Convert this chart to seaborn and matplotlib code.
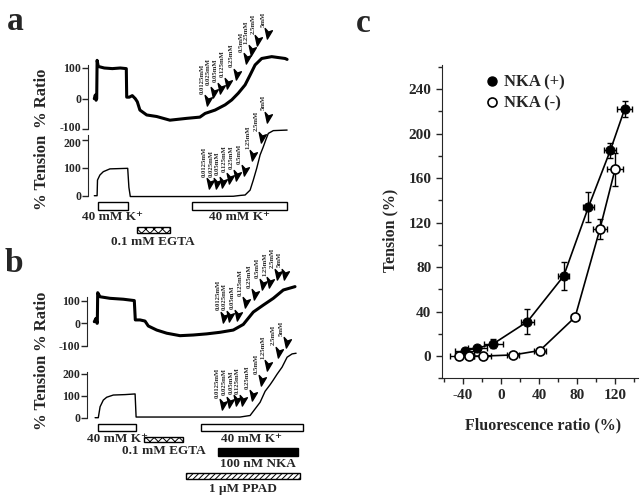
import numpy as np
import pandas as pd
import matplotlib
matplotlib.use('Agg')
import matplotlib.pyplot as plt
import matplotlib.transforms as mtransforms
from matplotlib.path import Path
from matplotlib.lines import Line2D
import seaborn as sns

sns.set_style('ticks')
plt.rcParams['font.family'] = ['Liberation Serif', 'DejaVu Serif']
plt.rcParams['font.weight'] = 'bold'
plt.rcParams['axes.labelweight'] = 'bold'
plt.rcParams['axes.unicode_minus'] = False
plt.rcParams['hatch.linewidth'] = 0.7

# ---- data ----
# time axis of the recordings (arbitrary minutes)
a_ratio_t = [3.0, 3.5, 3.9, 4.2, 4.4, 5.0, 8.0, 12.0, 16.0, 19.0, 19.2, 20.5, 22.0, 23.5, 24.5,
             25.8, 29.2, 34.2, 40.8, 49.2, 55.8, 58.4, 63.4, 68.4, 71.7, 75.0, 78.4, 80.9, 83.4,
             86.7, 91.7, 98.4, 99.4]
a_ratio = [0, 12, -5, 0, 125, 105, 100, 98, 100, 98, 5, 5, 10, 0, -10,
           -37, -53, -58, -70, -64, -60, -48, -37, -20, -4, 18, 45, 77, 110,
           131, 137, 131, 128]
a_tension_t = [3.0, 4.4, 4.6, 5.8, 7.5, 10.8, 19.7, 20.3, 21.0, 60.0, 72.5, 76.0, 78.4, 80.9,
               82.5, 84.2, 85.9, 87.5, 88.7, 90.0, 92.5, 99.4]
a_tension = [0, 0, 56, 74, 86, 96, 98, 30, -3, -3, -2, 1, 2.5, 20,
             56, 98, 146, 175, 199, 223, 233, 235]

b_ratio_t = [3.5, 4.35, 4.85, 5.0, 5.2, 6.35, 11.35, 18.0, 23.5, 24.0, 26.35, 28.85, 30.5, 34.7,
             39.7, 46.35, 53.0, 59.7, 66.35, 73.0, 78.0, 83.0, 88.0, 93.0, 98.0, 103.85]
b_ratio = [7, 22, 0, 0, 136, 118, 111, 107, 101, 15, 15, 10, -12, -30,
           -44, -55, -52, -47, -40, -30, -5, 50, 81, 111, 148, 163]
b_tension_t = [3.9, 5.5, 6.4, 8.0, 9.7, 13.0, 18.9, 23.9, 24.4, 76.4, 81.4, 83.9, 86.4, 88.9,
               91.4, 92.9, 94.9, 97.4, 99.9, 102.4, 104.4]
b_tension = [0, 0, 50, 80, 93, 103, 105, 108, 3, 3, 10, 40, 70, 120,
             150, 170, 198, 230, 275, 290, 293]

# cumulative Ca2+ additions
conc_labels = ['0.0125mM', '0.025mM', '0.05mM', '0.125mM', '0.25mM', '0.5mM', '1.25mM', '2.5mM', '5mM']
a_ratio_arrow_t = [60.0, 63.0, 66.4, 69.7, 74.2, 79.2, 81.7, 85.0, 90.0]
a_ratio_arrow_y = [-4, 23, 34, 50, 82, 131, 158, 191, 213]
a_tension_arrow_t = [60.9, 64.2, 67.5, 70.9, 74.2, 78.4, 82.5, 86.7, 90.0]
a_tension_arrow_y = [44, 44, 50, 62, 74, 92, 146, 211, 283]
b_ratio_arrow_t = [68.4, 71.4, 75.1, 79.3, 84.0, 87.6, 91.4, 95.1, 98.7]
b_ratio_arrow_y = [30, 31, 37, 95, 130, 175, 184, 220, 221]
b_tension_arrow_t = [68.0, 71.4, 74.7, 78.0, 83.0, 87.4, 90.5, 95.9, 99.7]
b_tension_arrow_y = [62, 73, 80, 80, 103, 172, 240, 300, 345]

# protocol bars (start, end)
a_k_periods = [(5.0, 19.7), (52.0, 99.5)]
a_egta_period = (24.2, 40.85)
b_k_periods = [(5.5, 24.4), (56.7, 107.7)]
b_egta_period = (28.4, 47.7)
b_nka_period = (65.5, 105.5)
b_ppad_period = (49.4, 106.4)

# panel c
plus_x = [-38, -25, -8, 28, 66, 92, 115, 130]
plus_y = [5, 7, 11, 31, 72, 134, 185, 222]
plus_xerr = [10, 10, 10, 7, 6, 5.5, 6.5, 7.5]
plus_yerr = [2, 2, 4, 11, 13, 13.5, 6.5, 7]
minus_x = [-44, -33, -19, 13, 41, 78, 104, 120]
minus_y = [0, 0, 0, 1, 5, 35, 114, 168]
minus_xerr = [9, 5, 9, 6, 6, 4, 7, 8]
minus_yerr = [1, 1, 1, 1, 2, 3, 9, 15]

W, H = 640, 497
fig = plt.figure(figsize=(W / 100, H / 100), dpi=100)


def px_axes(left, top, right, bottom):
    ax = fig.add_axes([left / W, 1 - bottom / H, (right - left) / W, (bottom - top) / H])
    ax.patch.set_alpha(0)
    return ax


arrow_marker = Path([(-0.2, -1.0), (-0.6, 0.9), (0.0, 0.25), (0.7, 0.5), (-0.2, -1.0)],
                    [Path.MOVETO, Path.LINETO, Path.LINETO, Path.LINETO, Path.CLOSEPOLY])


def trace_axes(left, top, bottom, zero_px, px_per_unit, bounds, ticks):
    ax = px_axes(left, top, 300, bottom)
    ax.set_xlim(0, (300 - left) / 2)
    ax.set_ylim((zero_px - bottom) / px_per_unit, (zero_px - top) / px_per_unit)
    for s in ['top', 'right', 'bottom']:
        ax.spines[s].set_visible(False)
    ax.spines['left'].set_bounds(*bounds)
    ax.set_xticks([])
    ax.set_yticks(ticks)
    ax.tick_params(axis='y', direction='out', length=4, width=1, labelsize=8.5, pad=1)
    return ax


def nudge_ticklabel(ax, index, dy_px):
    # shift one tick label a few pixels up or down
    off = mtransforms.ScaledTranslation(0, dy_px / 100, fig.dpi_scale_trans)
    lab = ax.get_yticklabels()[index]
    lab.set_transform(lab.get_transform() + off)


def draw_trace(ax, t, v, arr_t, arr_y, lw):
    df = pd.DataFrame({'t': t, 'v': v})
    sns.lineplot(data=df, x='t', y='v', ax=ax, color='black', lw=lw, estimator=None, sort=False)
    ax.set_xlabel('')
    ax.set_ylabel('')
    ax.plot(arr_t, arr_y, ls='none', marker=arrow_marker, ms=8, color='black', clip_on=False)
    for tt, yy, lbl in zip(arr_t, arr_y, conc_labels):
        ax.annotate(lbl, (tt, yy), xytext=(-4, 4.5), textcoords='offset points', rotation=90,
                    ha='center', va='bottom', fontsize=4.8, annotation_clip=False)


def proto_axes(left, top, bottom):
    ax = px_axes(left, top, 300, bottom)
    ax.set_xlim(0, (300 - left) / 2)
    ax.set_ylim(bottom, top)
    ax.axis('off')
    return ax


def proto_bar(ax, period, y, h, label, label_y, **kw):
    start, end = period
    ax.barh(y, end - start, left=start, height=h, edgecolor='black', linewidth=1, clip_on=False, **kw)
    ax.text((start + end) / 2, label_y, label, ha='center', va='center', fontsize=9.5)


# ---- panel a ----
ax = trace_axes(88.3, 20, 130, 98.7, 0.307, (-100, 110), [-100, 0, 100])
draw_trace(ax, a_ratio_t, a_ratio, a_ratio_arrow_t, a_ratio_arrow_y, 2.2)
nudge_ticklabel(ax, 0, 2.5)
ax = trace_axes(88.3, 105, 200, 195.7, 0.2793, (0, 217), [0, 100, 200])
draw_trace(ax, a_tension_t, a_tension, a_tension_arrow_t, a_tension_arrow_y, 1.0)
nudge_ticklabel(ax, 2, -2.5)
ax = proto_axes(88.3, 195, 250)
for p in a_k_periods:
    proto_bar(ax, p, 205.5, 8, '40 mM K\u207a', 217.5, color='white')
proto_bar(ax, a_egta_period, 229.8, 6.5, '0.1 mM EGTA', 241.7, color='white', hatch='xxxx')

# ---- panel b ----
ax = trace_axes(87.3, 255, 350, 323.3, 0.225, (-100, 118), [-100, 0, 100])
draw_trace(ax, b_ratio_t, b_ratio, b_ratio_arrow_t, b_ratio_arrow_y, 2.2)
ax = trace_axes(87.3, 335, 422, 417.7, 0.22, (0, 209), [0, 100, 200])
draw_trace(ax, b_tension_t, b_tension, b_tension_arrow_t, b_tension_arrow_y, 1.0)
ax = proto_axes(87.3, 415, 497)
for p in b_k_periods:
    proto_bar(ax, p, 427.5, 6.5, '40 mM K\u207a', 439.2, color='white')
proto_bar(ax, b_egta_period, 439.2, 5, '0.1 mM EGTA', 450.8, color='white', hatch='xxxx')
proto_bar(ax, b_nka_period, 452, 7.4, '100 nM NKA', 464.2, color='black')
proto_bar(ax, b_ppad_period, 476.3, 6, '1 \u03bcM PPAD', 489, color='white', hatch='//////')

# y labels of the recordings
for y, lbl in [(98, '% Ratio'), (172.5, '% Tension'), (321.7, '% Ratio'), (392.5, '% Tension')]:
    fig.text(41.7 / W, 1 - y / H, lbl, rotation=90, ha='center', va='center', fontsize=12)

# ---- panel c ----
axc = px_axes(441.7, 65, 638.3, 378.3)
df_c = pd.concat([
    pd.DataFrame({'ratio': plus_x, 'tension': plus_y, 'NKA': 'NKA (+)'}),
    pd.DataFrame({'ratio': minus_x, 'tension': minus_y, 'NKA': 'NKA (-)'}),
])
axc.errorbar(plus_x, plus_y, xerr=plus_xerr, yerr=plus_yerr, fmt='none', ecolor='black',
             elinewidth=1, capsize=2.5, capthick=1, zorder=2)
axc.errorbar(minus_x, minus_y, xerr=minus_xerr, yerr=minus_yerr, fmt='none', ecolor='black',
             elinewidth=1, capsize=2.5, capthick=1, zorder=2)
sns.lineplot(data=df_c[df_c.NKA == 'NKA (+)'], x='ratio', y='tension', ax=axc, color='black', lw=1.2,
             marker='o', ms=6.5, mfc='black', mec='black', estimator=None, sort=False, zorder=3)
sns.lineplot(data=df_c[df_c.NKA == 'NKA (-)'], x='ratio', y='tension', ax=axc, color='black', lw=1.2,
             marker='o', ms=6.5, mfc='white', mec='black', mew=1.2, estimator=None, sort=False, zorder=3)
axc.set_xlim(-62.1, 144.4)
axc.set_ylim(-19.4, 261.8)
axc.set_xticks([-40, 0, 40, 80, 120])
axc.set_xticks([-60, -20, 20, 60, 100, 140], minor=True)
axc.set_yticks([0, 40, 80, 120, 160, 200, 240])
axc.set_yticks([-20, 20, 60, 100, 140, 180, 220, 260], minor=True)
axc.tick_params(which='both', direction='out', width=1, labelsize=11)
axc.tick_params(which='major', length=4)
axc.tick_params(which='minor', length=3)
sns.despine(ax=axc)
axc.set_xlabel('Fluorescence ratio (%)', fontsize=11.5)
axc.set_ylabel('Tension (%)', fontsize=11.5)
axc.xaxis.set_label_coords(0.514, -0.124)
axc.yaxis.set_label_coords(-0.222, 0.473)
handles = [Line2D([], [], ls='none', marker='o', ms=6.5, mfc='black', mec='black'),
           Line2D([], [], ls='none', marker='o', ms=6.5, mfc='white', mec='black', mew=1.2)]
axc.legend(handles, ['NKA (+)', 'NKA (-)'], loc='upper left', bbox_to_anchor=(0.19, 0.99),
           frameon=False, fontsize=12, handlelength=0.8, handletextpad=0.3, labelspacing=0.3,
           borderaxespad=0)

# panel letters
for x, y, s in [(15, 22, 'a'), (14, 263, 'b'), (363, 24, 'c')]:
    fig.text(x / W, 1 - y / H, s, ha='center', va='center', fontsize=24)

fig.savefig('out.png', dpi=100, facecolor='white')
